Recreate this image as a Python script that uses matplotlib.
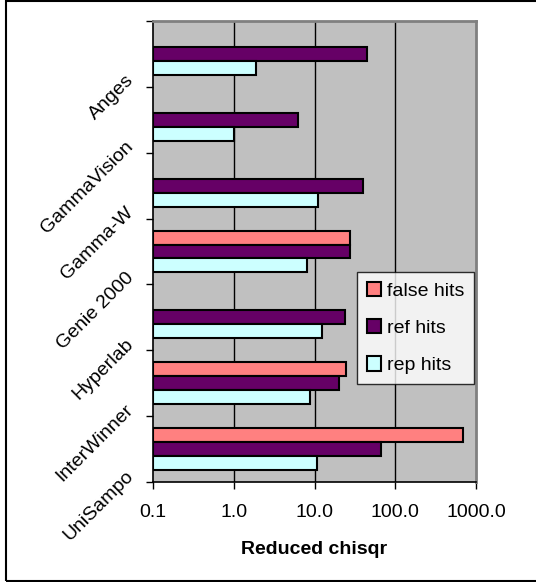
import matplotlib.pyplot as plt
import matplotlib.transforms as mtransforms
from matplotlib.patches import Rectangle
import numpy as np

plt.rcParams['font.family'] = ['Liberation Sans', 'DejaVu Sans']

programs = ['Anges', 'GammaVision', 'Gamma-W', 'Genie 2000', 'Hyperlab', 'InterWinner', 'UniSampo']
false_hits = [None, None, None, 27.7, None, 24.9, 692.0]
ref_hits = [44.9, 6.2, 40.4, 27.7, 23.8, 20.0, 66.4]
rep_hits = [1.9, 1.0, 11.2, 8.05, 12.4, 8.9, 10.6]
xticks = [0.1, 1, 10, 100, 1000]
xtick_labels = ['0.1', '1.0', '10.0', '100.0', '1000.0']

fs = 14

fig = plt.figure(figsize=(5.36, 5.82), dpi=100)
ax = fig.add_axes([153 / 536, 1 - 482 / 582, 323 / 536, 461 / 582])
ax.set_facecolor('#C0C0C0')

# outer chart border
fig.patches.append(Rectangle((6 / 536, 1 / 582), 1.2, 580 / 582, transform=fig.transFigure,
                             fill=False, edgecolor='black', linewidth=1.5))

h = 0.212
y = np.arange(len(programs))
base = 0.1
series = [('false hits', false_hits, '#FF8080', -h),
          ('ref hits', ref_hits, '#660066', 0),
          ('rep hits', rep_hits, '#CCFFFF', h)]
for name, vals, col, off in series:
    yy = [y[i] + off for i, v in enumerate(vals) if v is not None]
    ww = [v - base for v in vals if v is not None]
    ax.barh(yy, ww, left=base, height=h, color=col, edgecolor='black', linewidth=1.5, label=name)

ax.set_xscale('log')
ax.set_xlim(0.1, 1000)
ax.set_ylim(len(programs) - 0.5, -0.5)
ax.set_xticks(xticks)
ax.set_xticklabels(xtick_labels)
ax.xaxis.set_minor_locator(plt.NullLocator())
ax.set_yticks(np.arange(len(programs) + 1) - 0.5)
ax.set_yticklabels([])
ax.tick_params(axis='both', direction='out', length=5, width=1, color='black', labelsize=fs)
ax.tick_params(axis='x', pad=11)

for v in xticks[1:-1]:
    ax.axvline(v, color='black', linewidth=1, zorder=0.5)

for s in ['top', 'right']:
    ax.spines[s].set_color('#808080')
    ax.spines[s].set_linewidth(2)
for s in ['left', 'bottom']:
    ax.spines[s].set_color('black')
    ax.spines[s].set_linewidth(1.2)

# rotated category labels
off = mtransforms.ScaledTranslation(-22 / 100, -24 / 100, fig.dpi_scale_trans)
for i, p in enumerate(programs):
    ax.text(0, i, p, transform=ax.get_yaxis_transform() + off, rotation=45,
            ha='right', va='center', rotation_mode='anchor', fontsize=fs)

ax.set_xlabel('Reduced chisqr', fontsize=fs, fontweight='bold', labelpad=14)

leg = ax.legend(loc='upper left', bbox_to_anchor=((357 - 153) / 323, (482 - 272) / 461),
                frameon=True, fancybox=False, fontsize=fs, handlelength=0.75, handleheight=0.75,
                handletextpad=0.3, labelspacing=1.0, borderpad=0.5, borderaxespad=0)
leg.get_frame().set_edgecolor('black')
leg.get_frame().set_linewidth(1)

fig.savefig('out.png', dpi=100)
